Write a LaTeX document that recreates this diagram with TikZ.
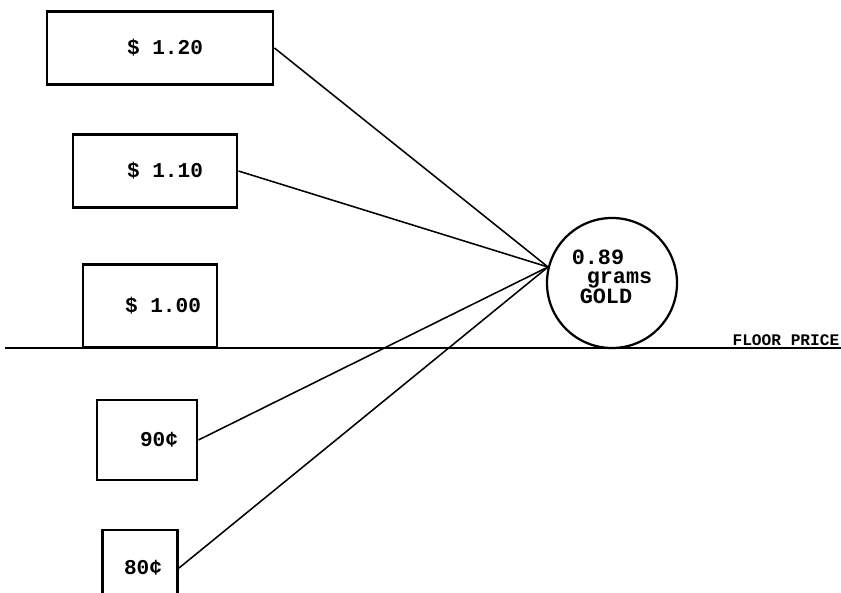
\documentclass[tikz,border=0pt]{standalone}
\usepackage{fontspec}
\setmonofont{Liberation Mono}
\usepackage{tikz}

\begin{document}
\begin{tikzpicture}[x=0.025cm,y=-0.025cm,
  box/.style={draw,line width=2pt,inner sep=0pt,font=\ttfamily\bfseries\fontsize{15}{15}\selectfont},
  wire/.style={line width=1.1pt}]
\useasboundingbox (0,0) rectangle (841,592);
\node[box,minimum width=5.65cm,minimum height=1.83cm] (p120) at (160,48) {\hspace*{0.25cm}\$ 1.20};
\node[box,minimum width=4.1cm,minimum height=1.83cm] (p110) at (155,171) {\hspace*{0.5cm}\$ 1.10};
\node[box,minimum width=3.35cm,minimum height=2.08cm] (p100) at (150,306) {\hspace*{0.65cm}\$ 1.00};
\node[box,minimum width=2.5cm,minimum height=2cm] (p90) at (147,440) {\hspace*{0.6cm}90¢};
\node[box,minimum width=1.88cm,minimum height=1.9cm] (p80) at (140,568) {\hspace*{0.15cm}80¢};
\node[draw,circle,line width=1.6pt,minimum size=3.25cm,inner sep=0pt,
  label={[align=left,yshift=0.15cm,font=\ttfamily\bfseries\fontsize{15.5}{13.5}\selectfont]center:0.89\\\hspace*{0.375cm}grams\\\hspace*{0.2cm}GOLD}] (gold) at (612,283) {};
\coordinate (meet) at (548,267);
\draw[line width=2pt] (5,348) -- (841,348);
\node[anchor=south east,inner sep=1pt,font=\ttfamily\bfseries\fontsize{11.5}{11.5}\selectfont] (floor) at (841,347) {FLOOR PRICE};
% price lines to the gold
\draw[wire] (p120.east) -- (meet);
\draw[wire] (p110.east) -- (meet);
\draw[wire] (p90.east) -- (meet);
\draw[wire] (p80.east) -- (meet);
\end{tikzpicture}
\end{document}
